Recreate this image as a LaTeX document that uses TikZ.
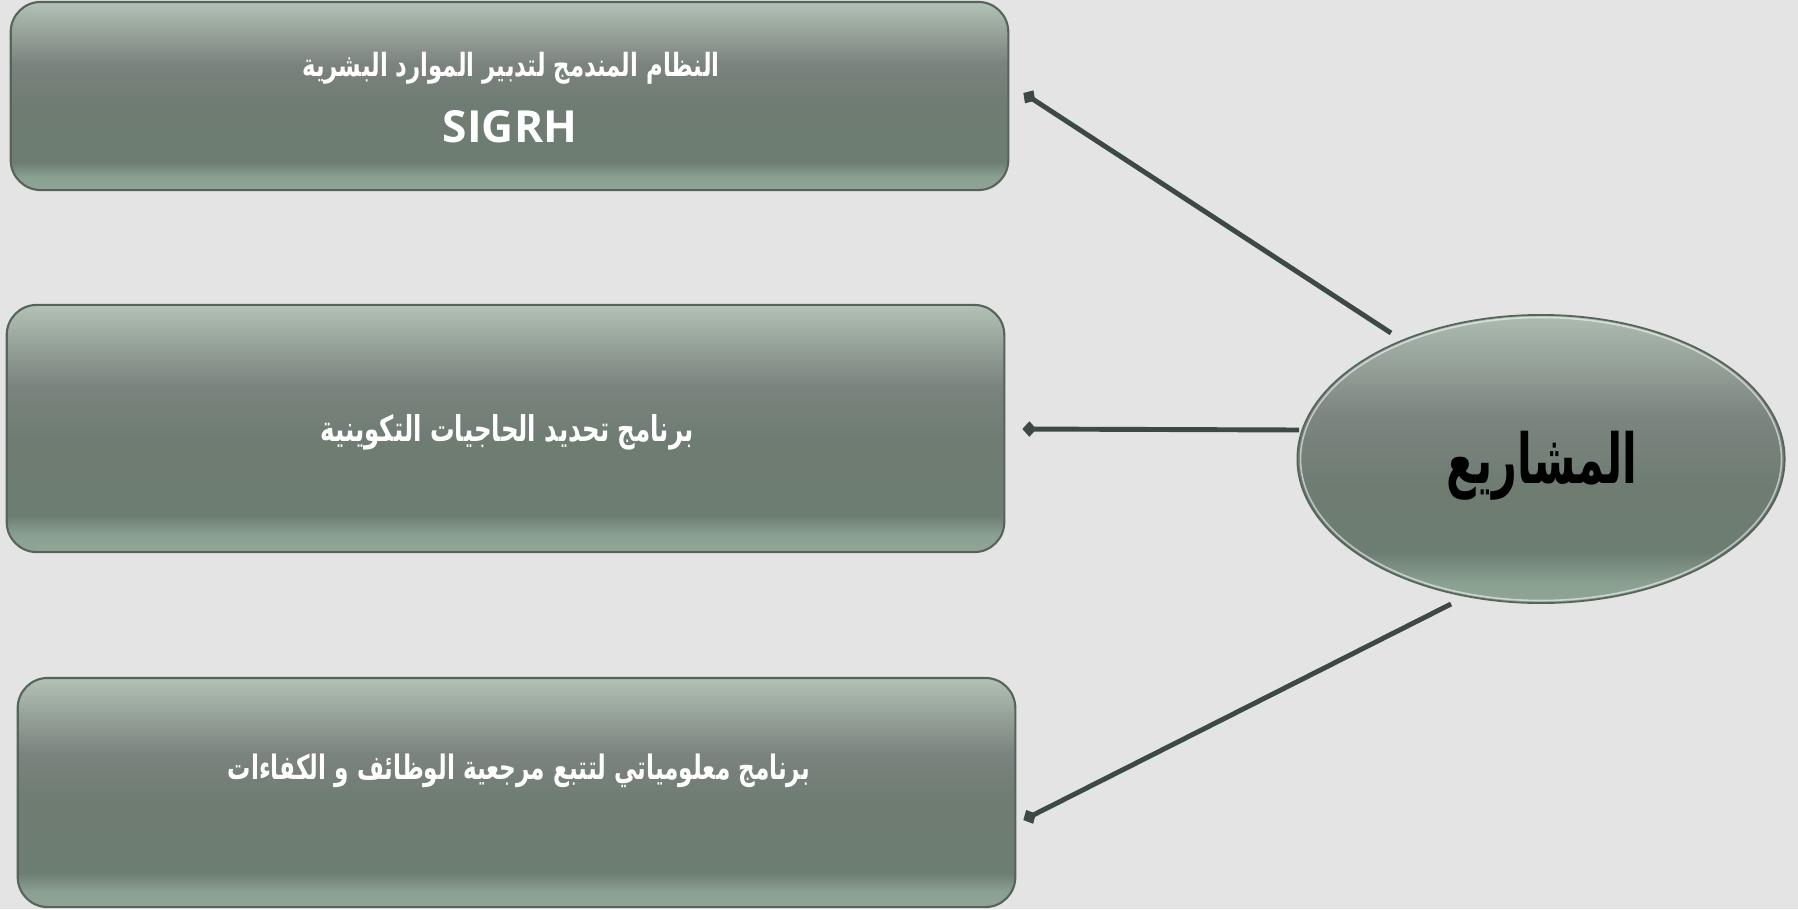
\documentclass[tikz,border=0pt]{standalone}
\usepackage{fontspec}
\usepackage{graphicx}
\usetikzlibrary{arrows.meta,shapes.geometric,calc}
\TeXXeTstate=1
\newfontfamily\arabicfont[Script=Arabic]{DejaVu Sans}
\newfontfamily\latinfont{Open Sans}
\definecolor{bgcol}{HTML}{E4E4E4}
\definecolor{linecol}{HTML}{3E4944}
\definecolor{boxborder}{HTML}{56645C}
\definecolor{sA}{HTML}{B4C1B6}
\definecolor{sB}{HTML}{A0AEA3}
\definecolor{sC}{HTML}{7B837E}
\definecolor{sD}{HTML}{6E7C72}
\definecolor{sE}{HTML}{6D7D72}
\definecolor{sF}{HTML}{8AA091}
\definecolor{sG}{HTML}{90A596}
\definecolor{eA}{HTML}{ADBBB0}
\definecolor{eC}{HTML}{7C8580}
\pgfdeclareverticalshading{boxshade}{100bp}{color(0bp)=(sG); color(25bp)=(sG); color(28.5bp)=(sF); color(32.5bp)=(sE); color(47.5bp)=(sD); color(58.5bp)=(sC); color(70bp)=(sB); color(75bp)=(sA); color(100bp)=(sA)}
\pgfdeclareverticalshading{ellshade}{100bp}{color(0bp)=(sG); color(25bp)=(sG); color(28.5bp)=(sF); color(34bp)=(sE); color(45bp)=(sD); color(57.5bp)=(eC); color(75bp)=(eA); color(100bp)=(eA)}
\begin{document}
\begin{tikzpicture}[x=0.01cm,y=-0.01cm,
  pbox/.style={draw=boxborder, line width=0.6pt, rounded corners=0.3cm, shading=boxshade, inner sep=0pt, minimum width=9.97cm},
  conn/.style={draw=linecol, line width=1.4pt, -{Diamond[length=4pt,width=4.4pt]}},
  wtxt/.style={text=white, inner sep=0pt},
  ]
\fill[bgcol] (0,0) rectangle (1798,909);
\useasboundingbox (0,0) rectangle (1798,909);
% boxes
\node[pbox, minimum height=1.88cm] (b1) at (509.5,96) {};
\node[pbox, minimum height=2.47cm] (b2) at (505.5,428.5) {};
\node[pbox, minimum height=2.29cm] (b3) at (516.5,792.5) {};
% ellipse
\node[ellipse, draw=boxborder, line width=0.5pt, shading=ellshade, inner sep=0pt, minimum width=4.87cm, minimum height=2.88cm] (ell) at (1541,459) {};
\draw[white, opacity=0.55, line width=0.45pt] (ell.center) ellipse [x radius=240.5, y radius=141.5];
% texts
\node[wtxt] (t1a) at (511,68.5) {\resizebox{4.17cm}{!}{\scalebox{1}[1.4]{\arabicfont\bfseries\beginR النظام المندمج لتدبير الموارد البشرية\endR}}};
\node[wtxt] (t1b) at (510,126.5) {\resizebox{1.34cm}{!}{\latinfont\bfseries SIGRH}};
\node[wtxt] (t2) at (507,432) {\resizebox{3.73cm}{!}{\scalebox{1}[1.45]{\arabicfont\bfseries\beginR برنامج تحديد الحاجيات التكوينية\endR}}};
\node[wtxt] (t3) at (519,771) {\resizebox{5.82cm}{!}{\scalebox{1}[1.45]{\arabicfont\bfseries\beginR برنامج معلومياتي لتتبع مرجعية الوظائف و الكفاءات\endR}}};
\node[inner sep=0pt, text=black] (te) at (1542,466) {\resizebox{1.9cm}{!}{\scalebox{1}[1.6]{\arabicfont\bfseries\beginR المشاريع\endR}}};
% connector end points
\coordinate (s1) at ($(ell.center)+(-150,-126)$);
\coordinate (s2) at ($(ell.center)+(-242,-29)$);
\coordinate (s3) at ($(ell.center)+(-90,145)$);
\coordinate (e1) at ($(b1.east)+(14,-3)$);
\coordinate (e2) at ($(b2.east)+(17,0.5)$);
\coordinate (e3) at ($(b3.east)+(7,27.5)$);
\draw[conn] (s1) -- (e1);
\draw[conn] (s2) -- (e2);
\draw[conn] (s3) -- (e3);
\end{tikzpicture}
\end{document}
